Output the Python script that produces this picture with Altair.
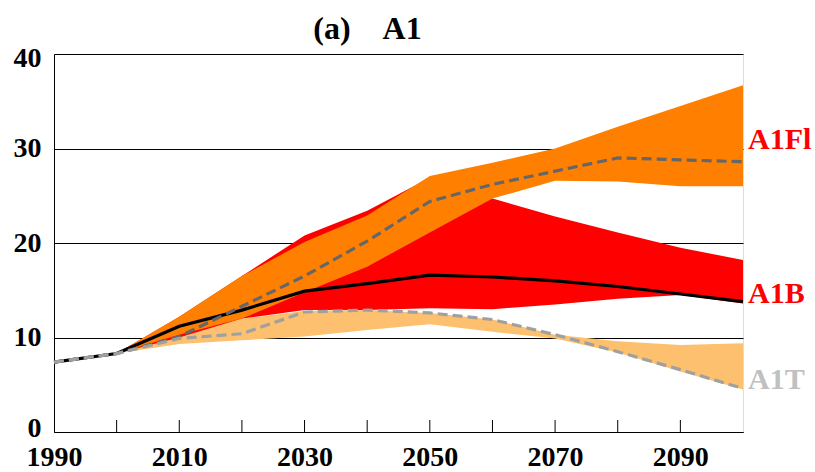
import altair as alt
import pandas as pd

# ---- data ----
years = [1990, 2000, 2010, 2020, 2030, 2040, 2050, 2060, 2070, 2080, 2090, 2100]
a1b_line = [7.4, 8.3, 11.2, 12.9, 14.9, 15.7, 16.6, 16.4, 16.0, 15.4, 14.6, 13.8]
a1fi_line = [7.4, 8.3, 10.1, 13.3, 16.5, 20.2, 24.4, 26.2, 27.6, 29.0, 28.8, 28.6]
a1t_line = [7.4, 8.3, 9.9, 10.4, 12.7, 12.9, 12.6, 11.9, 10.3, 8.5, 6.6, 4.6]

band_years = [2000, 2010, 2020, 2030, 2040, 2050, 2060, 2070, 2080, 2090, 2100]
a1fi_low = [8.3, 10.3, 12.0, 14.8, 17.5, 21.1, 24.7, 26.6, 26.5, 26.0, 26.0]
a1fi_high = [8.3, 12.2, 16.5, 20.1, 22.9, 27.1, 28.5, 30.0, 32.3, 34.5, 36.7]
a1b_low = [8.3, 10.0, 12.0, 12.9, 12.9, 13.1, 13.0, 13.5, 14.1, 14.5, 13.6]
a1b_high = [8.3, 12.2, 16.5, 20.8, 23.4, 26.9, 24.7, 22.8, 21.1, 19.5, 18.2]
a1t_low = [8.3, 9.3, 9.7, 10.1, 10.8, 11.4, 10.6, 9.9, 8.4, 6.4, 4.5]
a1t_high = [8.3, 10.2, 12.0, 12.8, 12.9, 12.6, 11.9, 10.3, 9.6, 9.2, 9.4]

label_years = [1990, 2010, 2030, 2050, 2070, 2090]
tick_years = [2000, 2010, 2020, 2030, 2040, 2050, 2060, 2070, 2080, 2090]
y_ticks = [0, 10, 20, 30, 40]

label_names = ["A1Fl", "A1B", "A1T"]
label_values = [30.0, 13.6, 4.6]
label_colors = ["#FF0000", "#FF0000", "#C0C0C0"]

FONT = "Liberation Serif"

lines_df = pd.DataFrame({"year": years, "a1b": a1b_line, "a1fi": a1fi_line, "a1t": a1t_line})
bands_df = pd.DataFrame({
    "year": band_years,
    "fi_lo": a1fi_low, "fi_hi": a1fi_high,
    "b_lo": a1b_low, "b_hi": a1b_high,
    "t_lo": a1t_low, "t_hi": a1t_high,
})
ticks_df = pd.DataFrame({"year": tick_years})
labels_df = pd.DataFrame({"year": [2100] * 3, "name": label_names,
                          "value": label_values, "color": label_colors})

xscale = alt.Scale(domain=[1990, 2100], nice=False, zero=False)
yscale = alt.Scale(domain=[0, 40], nice=False, zero=True)
xaxis = alt.Axis(values=label_years, format="d", title=None, grid=False, ticks=False,
                 labelFont=FONT, labelFontSize=28, labelFontWeight="bold", labelColor="black",
                 labelPadding=11, domainColor="black", labelOverlap=False, labelFlush=False)
yaxis = alt.Axis(values=y_ticks, title=None, grid=True, gridColor="black", gridWidth=1,
                 ticks=False, labelFont=FONT, labelFontSize=28, labelFontWeight="bold",
                 labelColor="black", labelPadding=13, domainColor="black",
                 labelFlush=True, labelFlushOffset=10)

X = alt.X("year:Q", scale=xscale, axis=xaxis)

def Y(field):
    return alt.Y(field + ":Q", scale=yscale, axis=yaxis)

bands = alt.Chart(bands_df)
band_t = bands.mark_area(color="#FDC06F", opacity=1).encode(x=X, y=Y("t_lo"), y2="t_hi:Q")
band_b = bands.mark_area(color="#FF0000", opacity=1).encode(x=X, y=Y("b_lo"), y2="b_hi:Q")
band_fi = bands.mark_area(color="#FF8000", opacity=1).encode(x=X, y=Y("fi_lo"), y2="fi_hi:Q")

lines = alt.Chart(lines_df)
line_b = lines.mark_line(color="black", strokeWidth=3.2).encode(x=X, y=Y("a1b"))
line_fi = lines.mark_line(color="#666666", strokeWidth=3.2, strokeDash=[10, 5]).encode(x=X, y=Y("a1fi"))
line_t = lines.mark_line(color="#A0A0A0", strokeWidth=3.2, strokeDash=[10, 5]).encode(x=X, y=Y("a1t"))

ticks = alt.Chart(ticks_df).mark_rule(color="black", strokeWidth=1).encode(
    x=X, y=alt.value(378), y2=alt.value(366))

labels = alt.Chart(labels_df).mark_text(
    font=FONT, fontSize=30, fontWeight="bold", align="left", baseline="alphabetic", dx=5
).encode(x=X, y=Y("value"), text="name:N", color=alt.Color("color:N", scale=None))

chart = alt.layer(band_t, band_b, band_fi, line_b, line_fi, line_t, ticks, labels).properties(
    width=689, height=378,
    autosize="none",
    padding={"left": 54, "top": 54, "right": 72, "bottom": 40},
    title=alt.TitleParams(text="(a)\u2003A1", font=FONT, fontSize=32, fontWeight="bold",
                          color="black", anchor="middle", frame="group", offset=14,
                          baseline="alphabetic", dx=-31, dy=41),
).configure_view(stroke="#333333", strokeWidth=1).configure(background="white")

chart.save("out.html", embed_options={"renderer": "svg", "actions": False})
